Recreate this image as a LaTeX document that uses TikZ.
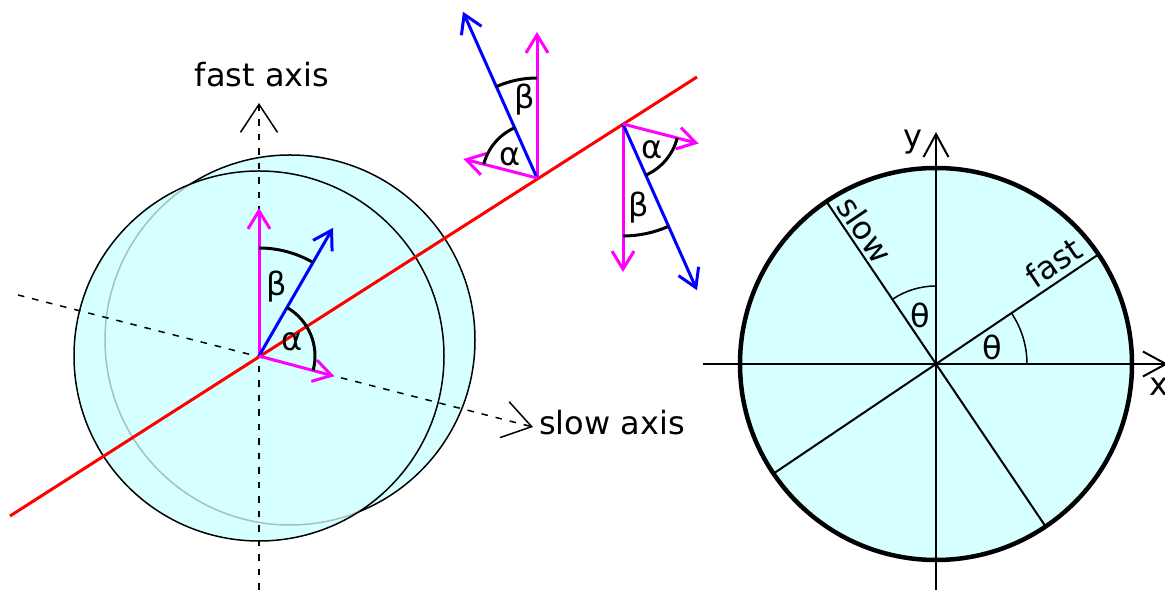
\documentclass[tikz,border=0pt]{standalone}
\usepackage{fontspec}
\setmainfont{DejaVu Sans}
\usetikzlibrary{arrows.meta,calc}
\definecolor{cfill}{RGB}{214,255,255}
\definecolor{mag}{RGB}{255,0,255}
\definecolor{ghost}{RGB}{165,192,192}
\begin{document}
\begin{tikzpicture}[x=1pt,y=1pt,
  lbl/.style={font=\fontsize{32}{38}\selectfont, inner sep=0pt},
  vec/.style={line width=3pt, -{Straight Barb[length=18pt,width=22pt]}},
  magv/.style={vec, draw=mag},
  bluev/.style={vec, draw=blue},
  angarc/.style={line width=3pt},
  thinarc/.style={line width=1.5pt},
  axisdash/.style={line width=1.5pt, dash pattern=on 6.5pt off 8pt},
  bigtip/.style={-{Straight Barb[length=28pt,width=37pt]}},
  axtip/.style={line width=2pt, -{Straight Barb[length=23pt,width=25pt]}},
  redline/.style={red, line width=3pt},
  ]
\useasboundingbox (0,0) rectangle (1165,593);
% ---------------- left figure ----------------
\coordinate (O) at (259,237);
\coordinate (B) at (290,253);
\fill[cfill] (B) circle (185);
\draw[line width=1.5pt] (B) circle (185);
\fill[cfill] (O) circle (185);
\begin{scope}
  \clip (O) circle (185);
  \draw[ghost, line width=1.5pt] (B) circle (185);
\end{scope}
\draw[line width=1.5pt] (O) circle (185);

\coordinate (fb) at (259,3);
\coordinate (ft) at (259,490);
\draw[axisdash, bigtip] (fb) -- (ft);
\coordinate (sl) at (18,298);
\coordinate (sr) at (533,166);
\draw[axisdash, bigtip] (sl) -- (sr);
\node[lbl, anchor=base] (fastlbl) at (262,506) {fast axis};
\node[lbl, anchor=base west] (slowlbl) at (539,158) {slow axis};

\coordinate (r1) at (10,77);
\coordinate (r2) at (697,516);
\draw[redline] (r1) -- (r2);

\draw[magv] (O) -- ++(90:148);
\draw[bluev] (O) -- ++(60:148);
\draw[magv] (O) -- ++(-15:78);
\draw[angarc] ([shift={(90:108)}]O) arc[start angle=90, end angle=60, radius=108];
\draw[angarc] ([shift={(60:56)}]O) arc[start angle=60, end angle=-15, radius=56];
\node[lbl] (b0) at (277,306) {β};
\node[lbl] (a0) at (292,251) {α};

% group 1
\coordinate (P1) at (537,415);
\draw[magv] (P1) -- ++(90:146);
\draw[bluev] (P1) -- ++(114:182);
\draw[magv] (P1) -- ++(165.5:76);
\draw[angarc] ([shift={(90:100)}]P1) arc[start angle=90, end angle=114, radius=100];
\draw[angarc] ([shift={(114:55)}]P1) arc[start angle=114, end angle=165.5, radius=55];
\node[lbl] (b1) at (525,493) {β};
\node[lbl] (a1) at (510,436) {α};

% group 2
\coordinate (P2) at (623,469);
\draw[magv] (P2) -- ++(-90:148);
\draw[bluev] (P2) -- ++(-66:182);
\draw[magv] (P2) -- ++(-14.5:78);
\draw[angarc] ([shift={(-14.5:56)}]P2) arc[start angle=-14.5, end angle=-66, radius=56];
\draw[angarc] ([shift={(-66:112)}]P2) arc[start angle=-66, end angle=-90, radius=112];
\node[lbl] (a2) at (652,443) {α};
\node[lbl] (b2) at (639,385) {β};

% ---------------- right figure ----------------
\coordinate (C) at (936,229);
\fill[cfill] (C) circle (196);
\draw[line width=2pt] ([shift={(34:196)}]C) -- ([shift={(214:196)}]C);
\draw[line width=2pt] ([shift={(124:196)}]C) -- ([shift={(-56:196)}]C);
\coordinate (xl) at (703,229);
\coordinate (xr) at (1168,229);
\coordinate (yb) at (936,3);
\coordinate (yt) at (936,461);
\draw[axtip] (xl) -- (xr);
\draw[axtip] (yb) -- (yt);
\draw[line width=4.5pt] (C) circle (196);
\draw[thinarc] ([shift={(0:91)}]C) arc[start angle=0, end angle=34, radius=91];
\draw[thinarc] ([shift={(90:78)}]C) arc[start angle=90, end angle=124, radius=78];
\node[lbl] (t1) at (992,246) {θ};
\node[lbl] (t2) at (920,278) {θ};
\node[lbl, anchor=base] (xlbl) at (1159,197) {x};
\node[lbl, anchor=base] (ylbl) at (913,445) {y};
\node[lbl, rotate=-56, anchor=south] (slowax) at ($(C)+(124:151)+(34:4)$) {slow};
\node[lbl, rotate=34, anchor=south] (fastax) at ($(C)+(34:154)+(124:6)$) {fast};
\end{tikzpicture}
\end{document}
